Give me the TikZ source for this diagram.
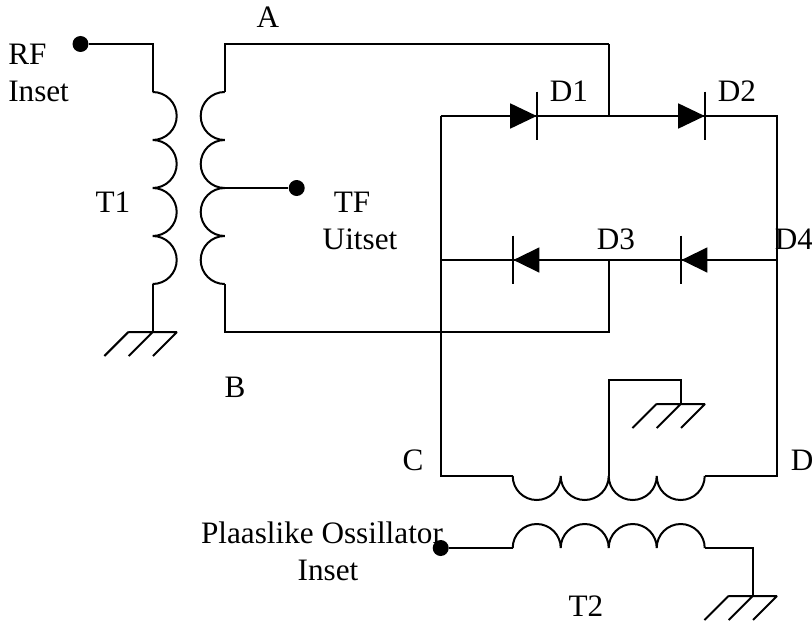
\documentclass[tikz,border=0pt]{standalone}
\usepackage{fontspec}
\setmainfont{Liberation Serif}
\tikzset{
  wire/.style={line width=1.5pt,line join=miter},
  coilwire/.style={line width=1.5pt,line join=bevel},
  terminal/.style={circle,fill=black,draw=none,inner sep=0pt,minimum size=12pt},
  lbl/.style={inner sep=0pt,anchor=base,font=\fontsize{23.4pt}{24pt}\selectfont},
  pt/.style={inner sep=0pt,minimum size=0pt}
}
\newcommand{\gnd}[1]{%
  \draw[wire] ([shift={(-24.3,0)}]#1) -- ([shift={(24.3,0)}]#1)
    ([shift={(24.3,0)}]#1) -- +(-24,24) (#1) -- +(-24,24) ([shift={(-24.3,0)}]#1) -- +(-24,24);}
\newcommand{\diodeR}[1]{%
  \fill ([shift={(0,0)}]#1) -- +(-26.5,-12.7) -- +(-26.5,12.7) -- cycle;
  \draw[wire] ([shift={(0,-24.3)}]#1) -- ([shift={(0,24.3)}]#1);}
\newcommand{\diodeL}[1]{%
  \fill ([shift={(0.7,0)}]#1) -- +(26,-12.7) -- +(26,12.7) -- cycle;
  \draw[wire] ([shift={(0,-24.3)}]#1) -- ([shift={(0,24.3)}]#1);}
\begin{document}
\begin{tikzpicture}[x=0.75pt,y=-0.75pt]
\useasboundingbox (0,0) rectangle (812,624);
% labels (under the wires, as the reference's dot covers the text)
\node[lbl,anchor=base west] (lRF) at (8,65) {RF};
\node[lbl,anchor=base west] (lIn1) at (8,102) {Inset};
\node[lbl] (lA) at (268,28) {A};
\node[lbl] (lT1) at (113,212) {T1};
\node[lbl] (lTF) at (352,212) {TF};
\node[lbl] (lUit) at (360,249) {Uitset};
\node[lbl] (lB) at (235,397) {B};
\node[lbl] (lD1) at (569,102) {D1};
\node[lbl] (lD2) at (737,102) {D2};
\node[lbl] (lD3) at (616,249) {D3};
\node[lbl] (lD4) at (794,249) {D4};
\node[lbl] (lC) at (413,470) {C};
\node[lbl] (lD) at (802,470) {D};
\node[lbl] (lPl) at (322,543) {Plaaslike Ossillator};
\node[lbl] (lIn2) at (328,580) {Inset};
\node[lbl] (lT2) at (586,616) {T2};
% terminals
\node[terminal] (rf) at (80.5,44) {};
\node[terminal] (tf) at (296.7,188) {};
\node[terminal] (lo) at (440.7,548) {};
% junction points
\coordinate (t1top) at (152.7,92);
\coordinate (t1bot) at (152.7,284);
\coordinate (t1g) at (152.7,332);
\coordinate (t1rf) at (152.7,44);
\coordinate (s1a) at (224.7,44);
\coordinate (s1top) at (224.7,92);
\coordinate (s1mid) at (224.7,188);
\coordinate (s1bot) at (224.7,284);
\coordinate (s1b) at (224.7,332);
\coordinate (ja) at (608.7,44);
\coordinate (jt) at (608.7,116);
\coordinate (jm) at (608.7,260);
\coordinate (jb) at (608.7,332);
\coordinate (tl) at (440.7,116);
\coordinate (tr) at (777,116);
\coordinate (ml) at (440.7,260);
\coordinate (mr) at (777,260);
\coordinate (bl) at (440.7,476);
\coordinate (br) at (777,476);
\coordinate (c1) at (512.7,476);
\coordinate (c2) at (704.7,476);
\coordinate (cc) at (608.7,476);
\coordinate (cu) at (608.7,380);
\coordinate (gu) at (680.7,380);
\coordinate (g2) at (680.7,404);
\coordinate (l1) at (512.7,548);
\coordinate (l2) at (704.7,548);
\coordinate (lc) at (752.7,548);
\coordinate (g3) at (752.7,596);
\coordinate (d1) at (536.7,116);
\coordinate (d2) at (704.7,116);
\coordinate (d3) at (512.7,260);
\coordinate (d4) at (680.7,260);
% wires
\draw[wire] (rf) -- (t1rf) -- (t1top);
\draw[wire] (t1bot) -- (t1g);
\draw[wire] (ja) -- (s1a) -- (s1top);
\draw[wire] (s1bot) -- (s1b) -- (jb) -- (jm);
\draw[wire] (s1mid) -- (tf);
\draw[wire] (ja) -- (jt);
\draw[wire] (tl) -- (tr) -- (br) -- (c2);
\draw[wire] (tl) -- (bl) -- (c1);
\draw[wire] (ml) -- (mr);
\draw[wire] (cc) -- (cu) -- (gu) -- (g2);
\draw[wire] (lo) -- (l1);
\draw[wire] (l2) -- (lc) -- (g3);
% coils
\draw[coilwire] (t1top) arc[start angle=90,end angle=-90,radius=18pt] arc[start angle=90,end angle=-90,radius=18pt] arc[start angle=90,end angle=-90,radius=18pt] arc[start angle=90,end angle=-90,radius=18pt];
\draw[coilwire] (s1top) arc[start angle=90,end angle=270,radius=18pt] arc[start angle=90,end angle=270,radius=18pt] arc[start angle=90,end angle=270,radius=18pt] arc[start angle=90,end angle=270,radius=18pt];
\draw[coilwire] (c1) arc[start angle=180,end angle=360,radius=18pt] arc[start angle=180,end angle=360,radius=18pt] arc[start angle=180,end angle=360,radius=18pt] arc[start angle=180,end angle=360,radius=18pt];
\draw[coilwire] (l1) arc[start angle=180,end angle=0,radius=18pt] arc[start angle=180,end angle=0,radius=18pt] arc[start angle=180,end angle=0,radius=18pt] arc[start angle=180,end angle=0,radius=18pt];
% grounds
\gnd{t1g}
\gnd{g2}
\gnd{g3}
% diodes
\diodeR{d1}
\diodeR{d2}
\diodeL{d3}
\diodeL{d4}
\end{tikzpicture}
\end{document}
